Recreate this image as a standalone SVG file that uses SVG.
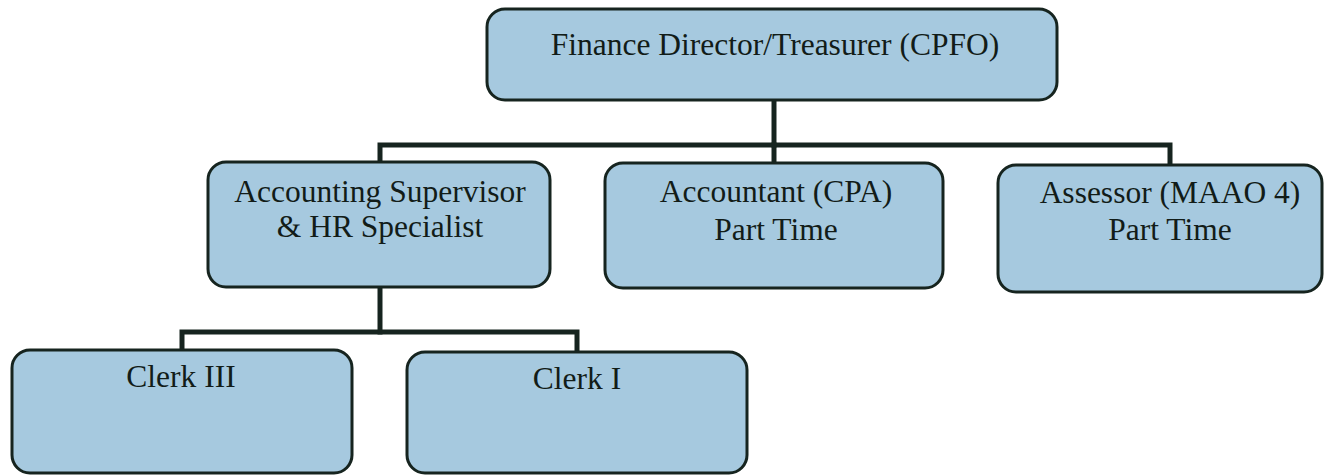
<svg xmlns="http://www.w3.org/2000/svg" width="1325" height="475" viewBox="0 0 1325 475">
<style>
.box{fill:#a6c9df;stroke:#16241f;stroke-width:3}
.t{font-family:'Liberation Serif','Times New Roman',Times,'DejaVu Serif',serif;font-size:31.5px;fill:#121c18;text-anchor:middle}
.c{fill:none;stroke:#16241f;stroke-width:5;stroke-linejoin:miter;stroke-linecap:square}
</style>
<rect width="1325" height="475" fill="#ffffff"/>
<g id="connectors">
<path class="c" d="M774 100 V145"/>
<path class="c" d="M380 162 V145 H1170 V165"/>
<path class="c" d="M774 145 V163"/>
<path class="c" d="M380 288 V332"/>
<path class="c" d="M182 350 V332 H577 V352"/>
</g>
<g id="n_director">
<rect class="box" x="487" y="9" width="570" height="91" rx="18"/>
<text class="t" x="775" y="55">Finance Director/Treasurer (CPFO)</text>
</g>
<g id="n_accounting">
<rect class="box" x="208" y="162" width="342" height="125" rx="18"/>
<text class="t" x="380" y="202">Accounting Supervisor</text>
<text class="t" x="380" y="237">&amp; HR Specialist</text>
</g>
<g id="n_accountant">
<rect class="box" x="605" y="163" width="338" height="125" rx="18"/>
<text class="t" x="776" y="202">Accountant (CPA)</text>
<text class="t" x="776" y="240">Part Time</text>
</g>
<g id="n_assessor">
<rect class="box" x="998" y="165" width="324" height="127" rx="18"/>
<text class="t" x="1170" y="203">Assessor (MAAO 4)</text>
<text class="t" x="1170" y="240">Part Time</text>
</g>
<g id="n_clerk3">
<rect class="box" x="12" y="350" width="340" height="123" rx="18"/>
<text class="t" x="181" y="387">Clerk III</text>
</g>
<g id="n_clerk1">
<rect class="box" x="407" y="352" width="340" height="121" rx="18"/>
<text class="t" x="577" y="389">Clerk I</text>
</g>
</svg>
